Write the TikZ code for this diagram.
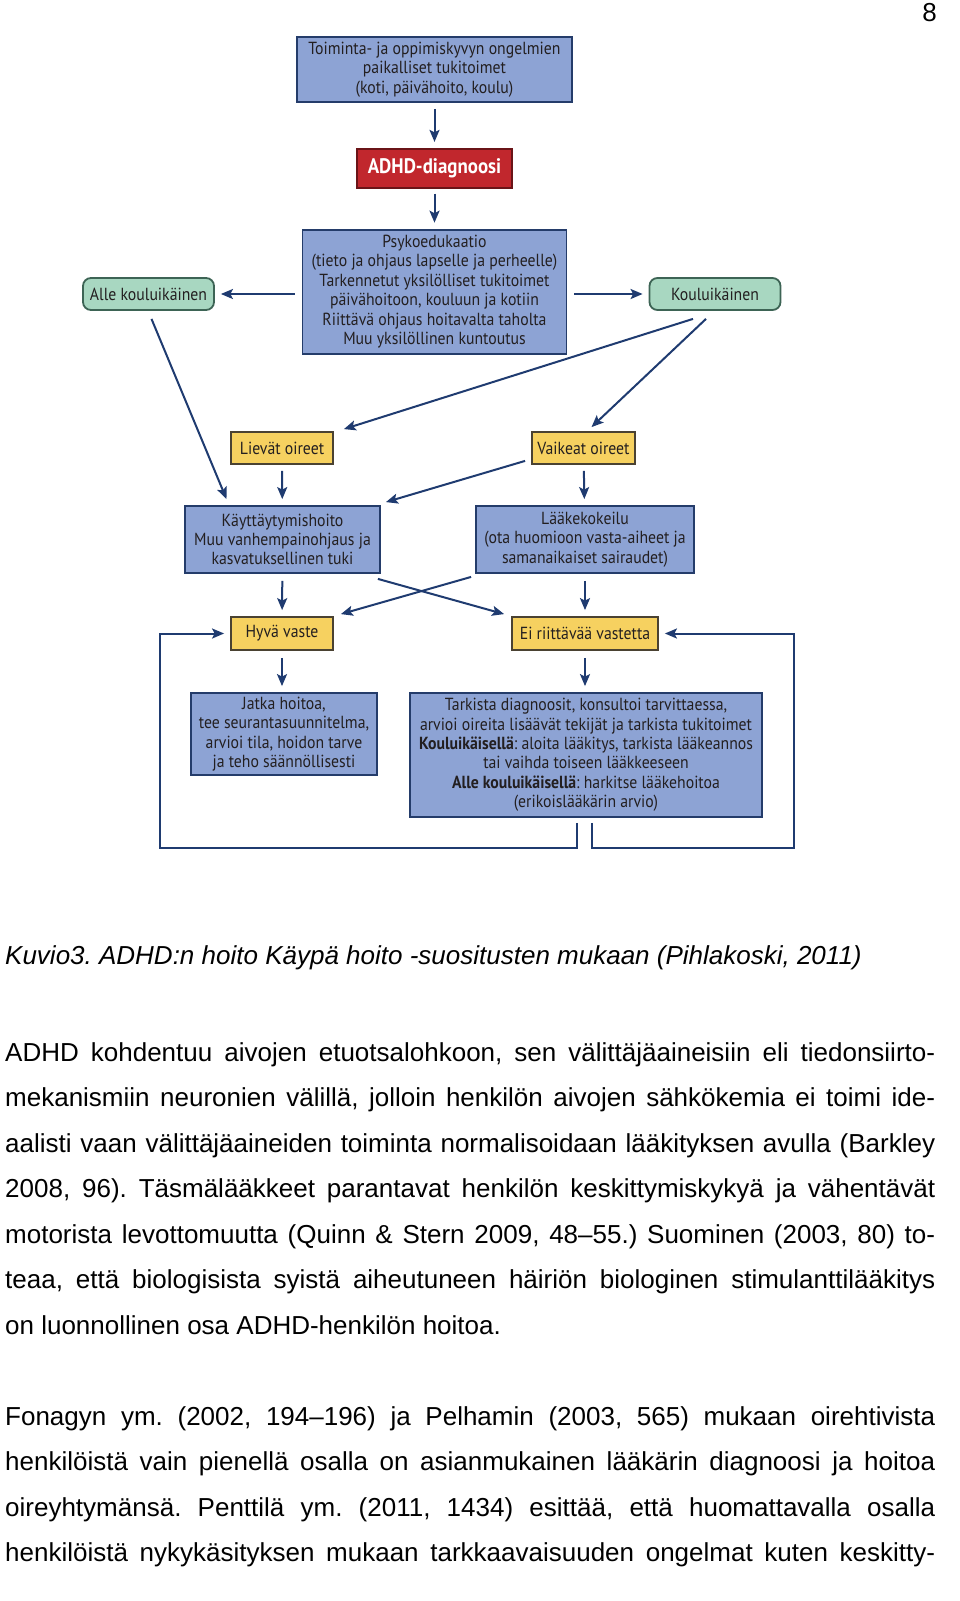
\documentclass[tikz,border=0pt]{standalone}
\usepackage{fontspec}
\setmainfont{Liberation Sans}
\newfontfamily\chartfont[FakeStretch=0.9]{PT Sans}
\usetikzlibrary{positioning}
\usetikzlibrary{arrows.meta}
\frenchspacing

\definecolor{navy}{HTML}{1F3B70}
\definecolor{boxblue}{HTML}{8DA3D4}
\definecolor{boxline}{HTML}{243C6A}
\definecolor{symptom}{HTML}{F6D160}
\definecolor{symptomline}{HTML}{4A4232}
\definecolor{agegreen}{HTML}{A8D7C1}
\definecolor{ageline}{HTML}{3D6455}
\definecolor{diagred}{HTML}{C1272D}
\definecolor{diagline}{HTML}{6A1418}
\definecolor{charttext}{HTML}{231F20}

\begin{document}
\begin{tikzpicture}[x=1pt,y=-1pt,
    box/.style={
      % The shape:
      rectangle,inner sep=2pt,align=center,
      % Border
      line width=1.8pt,draw=boxline,fill=boxblue,text=charttext,
      font={\chartfont\fontsize{17.5}{19.4}\selectfont}
      },
    redbox/.style={box,draw=diagline,fill=diagred,text=white,
      font={\chartfont\bfseries\fontsize{21}{22}\selectfont}},
    symptombox/.style={box,draw=symptomline,fill=symptom,
      minimum height=32pt},
    agebox/.style={box,draw=ageline,fill=agegreen,
      rounded corners=8pt,minimum height=32pt,minimum width=131pt},
    link/.style={-{Stealth[length=12pt,width=10pt,inset=2.5pt]},line width=2pt,draw=navy},
    textline/.style={anchor=base west,inner sep=0pt,
      font={\fontsize{26}{30}\selectfont}}]
  \useasboundingbox (0,0) rectangle (960,1601);

  \node (pagenum) [textline,anchor=base east] at (937,21) {8};

  % top of the chart
  \node (local) [box,minimum width=275pt,minimum height=65pt] at (434.5,69.5)
    {Toiminta- ja oppimiskyvyn ongelmien\\ paikalliset tukitoimet\\ (koti, päivähoito, koulu)};
  \node (diagnosis) [redbox,minimum width=155pt,minimum height=39pt,below=45pt of local]
    {ADHD-diagnoosi};
  \node (psycho) [box,minimum width=264pt,minimum height=124pt,below=40pt of diagnosis]
    {Psykoedukaatio\\ (tieto ja ohjaus lapselle ja perheelle)\\ Tarkennetut yksilölliset tukitoimet\\
     päivähoitoon, kouluun ja kotiin\\ Riittävä ohjaus hoitavalta taholta\\ Muu yksilöllinen kuntoutus};
  \node (preschool) [agebox] at (148.5,294) {Alle kouluikäinen};
  \node (school) [agebox] at (715,294) {Kouluikäinen};

  % symptoms and treatment
  \node (mild) [symptombox,minimum width=102pt] at (282,448) {Lievät oireet};
  \node (severe) [symptombox,minimum width=103pt] at (583.5,448) {Vaikeat oireet};
  \node (behaviour) [box,minimum width=195pt,minimum height=67pt] at (282.5,539.5)
    {Käyttäytymishoito\\ Muu vanhempainohjaus ja\\ kasvatuksellinen tuki};
  \node (medtrial) [box,minimum width=218pt,minimum height=67pt] at (585,539.5)
    {Lääkekokeilu\\ (ota huomioon vasta-aiheet ja\\ samanaikaiset sairaudet)};
  \node (goodresp) [symptombox,minimum width=102pt,minimum height=33pt] at (282,633.5) {Hyvä vaste};
  \node (poorresp) [symptombox,minimum width=146pt,minimum height=33pt] at (585,633.5) {Ei riittävää vastetta};
  \node (continue) [box,minimum width=186pt,minimum height=82pt] at (284,734)
    {Jatka hoitoa,\\ tee seurantasuunnitelma,\\ arvioi tila, hoidon tarve\\ ja teho säännöllisesti};
  \node (review) [box,minimum width=352pt,minimum height=124pt] at (586,755)
    {Tarkista diagnoosit, konsultoi tarvittaessa,\\ arvioi oireita lisäävät tekijät ja tarkista tukitoimet\\
     \textbf{Kouluikäisellä}: aloita lääkitys, tarkista lääkeannos\\ tai vaihda toiseen lääkkeeseen\\
     \textbf{Alle kouluikäisellä}: harkitse lääkehoitoa\\ (erikoislääkärin arvio)};

  % connectors
  \draw [link,shorten <=6pt,shorten >=6pt] (local) -- (diagnosis);
  \draw [link,shorten <=5pt,shorten >=6pt] (diagnosis) -- (psycho);
  \draw [link,shorten <=7pt,shorten >=6pt] (psycho.west |- preschool) -- (preschool);
  \draw [link,shorten <=7pt,shorten >=6pt] (psycho.east |- school) -- (school);
  \draw [link] ([xshift=-22pt,yshift=-8pt]school.south) -- ([xshift=10pt,yshift=2pt]mild.north east);
  \draw [link] ([xshift=-9pt,yshift=-8pt]school.south) -- ([xshift=8pt,yshift=4pt]severe.north);
  \draw [link] ([xshift=3pt,yshift=-8pt]preschool.south) -- ([xshift=-56pt,yshift=6pt]behaviour.north);
  \draw [link,shorten <=6pt,shorten >=6pt] (mild) -- (behaviour);
  \draw [link,shorten <=6pt,shorten >=6pt] (severe) -- (medtrial);
  \draw [link] ([xshift=-6pt,yshift=4pt]severe.south west) -- ([xshift=5pt,yshift=3pt]behaviour.north east);
  \draw [link,shorten <=7pt,shorten >=6pt] (behaviour) -- (goodresp);
  \draw [link,shorten <=7pt,shorten >=6pt] (medtrial) -- (poorresp);
  \draw [link] ([xshift=-3pt,yshift=-5pt]behaviour.south east) -- ([xshift=-7pt,yshift=2pt]poorresp.north west);
  \draw [link] ([xshift=-4pt,yshift=-3pt]medtrial.south west) -- ([xshift=7pt,yshift=2pt]goodresp.north east);
  \draw [link,shorten <=7pt,shorten >=6pt] (goodresp) -- (continue.north -| goodresp);
  \draw [link,shorten <=7pt,shorten >=6pt] (poorresp) -- (review.north -| poorresp);
  \coordinate (loopleft) at (160,848);
  \coordinate (loopright) at (794,848);
  \draw [link] ([xshift=-9pt,yshift=-5pt]review.south) |- (loopleft) |- ([xshift=-6pt]goodresp.west);
  \draw [link] ([xshift=6pt,yshift=-5pt]review.south) |- (loopright) |- ([xshift=6pt]poorresp.east);

  % caption and body text
  \node (caption) [textline,font={\itshape\fontsize{26}{30}\selectfont}] at (5,964)
    {Kuvio3. ADHD:n hoito Käypä hoito -suositusten mukaan (Pihlakoski, 2011)};
  \foreach \txt [count=\k] in {
    {ADHD kohdentuu aivojen etuotsalohkoon, sen välittäjäaineisiin eli tiedonsiirto-},
    {mekanismiin neuronien välillä, jolloin henkilön aivojen sähkökemia ei toimi ide-},
    {aalisti vaan välittäjäaineiden toiminta normalisoidaan lääkityksen avulla (Barkley},
    {2008, 96). Täsmälääkkeet parantavat henkilön keskittymiskykyä ja vähentävät},
    {motorista levottomuutta (Quinn \& Stern 2009, 48–55.) Suominen (2003, 80) to-},
    {teaa, että biologisista syistä aiheutuneen häiriön biologinen stimulanttilääkitys},
    {on luonnollinen osa ADHD-henkilön hoitoa.\hfill},
    {},
    {Fonagyn ym. (2002, 194–196) ja Pelhamin (2003, 565) mukaan oirehtivista},
    {henkilöistä vain pienellä osalla on asianmukainen lääkärin diagnoosi ja hoitoa},
    {oireyhtymänsä. Penttilä ym. (2011, 1434) esittää, että huomattavalla osalla},
    {henkilöistä nykykäsityksen mukaan tarkkaavaisuuden ongelmat kuten keskitty-}}
    \node (line-\k) [textline] at (5,{1061+45.5*(\k-1)}) {\makebox[930pt][s]{\txt}};
\end{tikzpicture}
\end{document}
